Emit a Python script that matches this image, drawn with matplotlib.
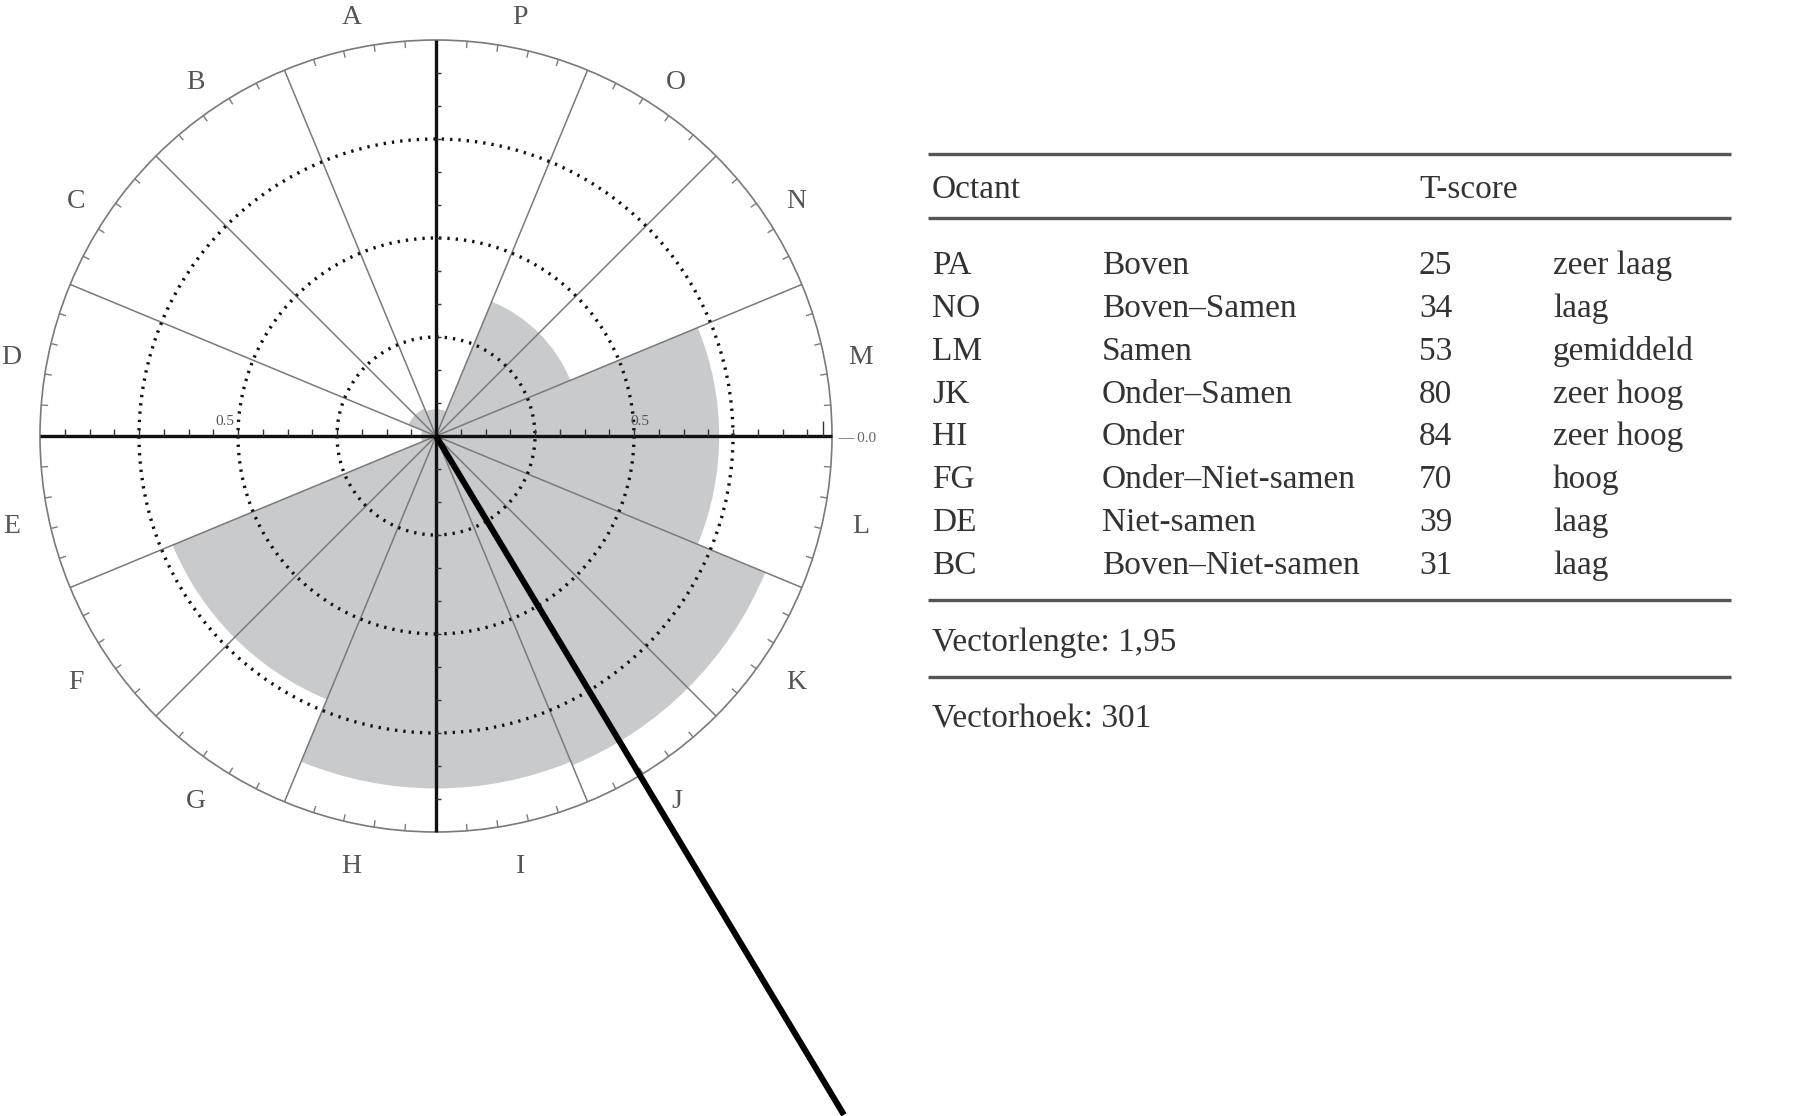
import numpy as np
import matplotlib
matplotlib.use('Agg')
import matplotlib.pyplot as plt
from matplotlib.patches import Wedge, Circle
from matplotlib.collections import LineCollection

# ---------------- data ----------------
sector_letters = ['A', 'B', 'C', 'D', 'E', 'F', 'G', 'H',
                  'I', 'J', 'K', 'L', 'M', 'N', 'O', 'P']
octant_codes = ['PA', 'NO', 'LM', 'JK', 'HI', 'FG', 'DE', 'BC']
octant_names = ['Boven', 'Boven–Samen', 'Samen', 'Onder–Samen', 'Onder',
                'Onder–Niet-samen', 'Niet-samen', 'Boven–Niet-samen']
t_scores = [25, 34, 53, 80, 84, 70, 39, 31]
levels = ['zeer laag', 'laag', 'gemiddeld', 'zeer hoog', 'zeer hoog',
          'hoog', 'laag', 'laag']
octant_angles = [90, 45, 0, 315, 270, 225, 180, 135]      # centre of octant (deg)
octant_radius = [0.27, 1.47, 2.86, 3.60, 3.56, 2.88, 0.15, 0.30]  # shaded radius
ring_levels = [1, 2, 3]
outer_radius = 4.0
vector_length_text = '1,95'
vector_angle = 301

plt.rcParams['font.family'] = ['Liberation Serif', 'DejaVu Serif']

W, H = 1800, 1116
fig = plt.figure(figsize=(W / 100, H / 100), dpi=100)
fig.patch.set_facecolor('white')

# circle axes: 99 px per data unit, centre at pixel (436, 436)
cx, cy, u = 436, 436, 99
ax = fig.add_axes([0, 0, 900 / W, 1])
ax.set_xlim(-cx / u, (900 - cx) / u)
ax.set_ylim(-(H - cy) / u, cy / u)
ax.axis('off')

R = outer_radius
grey = '#c9cacc'
for ang, r in zip(octant_angles, octant_radius):
    ax.add_patch(Wedge((0, 0), r, ang - 22.5, ang + 22.5,
                       facecolor=grey, edgecolor='none', zorder=1))

# sector lines
seg = []
for k in range(16):
    if k % 4 == 0:
        continue
    a = np.deg2rad(22.5 * k)
    seg.append([(0, 0), (R * np.cos(a), R * np.sin(a))])
ax.add_collection(LineCollection(seg, colors='#7a7a7a', linewidths=1.1, zorder=2))

# outer circle + ticks
ax.add_patch(Circle((0, 0), R, fill=False, edgecolor='#7a7a7a', lw=1.2, zorder=2))
tseg = []
for k in range(80):
    if k % 5 == 0:
        continue
    a = np.deg2rad(4.5 * k)
    tseg.append([(R * np.cos(a), R * np.sin(a)),
                 ((R - 0.07) * np.cos(a), (R - 0.07) * np.sin(a))])
ax.add_collection(LineCollection(tseg, colors='#7a7a7a', linewidths=1.0, zorder=2))

# dotted rings
for rl in ring_levels:
    ax.add_patch(Circle((0, 0), rl, fill=False, edgecolor='#111111', lw=2.4,
                        linestyle=(0, (0.7, 1.8)), zorder=3))

# main axes
ax.plot([-R, R], [0, 0], color='#111111', lw=2.4, zorder=4, solid_capstyle='butt')
ax.plot([0, 0], [-R, R], color='#111111', lw=2.4, zorder=4, solid_capstyle='butt')

# axis ticks
hx = np.arange(0.25, 3.8, 0.25)
hseg = [[(s * x, 0), (s * x, 0.07)] for x in hx for s in (1, -1)]
hseg.append([(3.91, 0), (3.91, 0.15)])
ax.add_collection(LineCollection(hseg, colors='#333333', linewidths=1.0, zorder=4))
vy = np.arange(1, 12) / 3.0
vseg = [[(0, s * y), (0.05, s * y)] for y in vy for s in (1, -1)]
ax.add_collection(LineCollection(vseg, colors='#333333', linewidths=1.0, zorder=4))

ax.text(2.06, 0.15, '0.5', fontsize=11, color='#555555', ha='center', va='center')
ax.text(-2.13, 0.15, '0.5', fontsize=11, color='#555555', ha='center', va='center')
ax.text(4.06, -0.03, '— 0.0', fontsize=11, color='#666666', ha='left', va='center')

# sector letters
for i, letter in enumerate(sector_letters):
    a = np.deg2rad(101.25 + 22.5 * i)
    ax.text(4.37 * np.cos(a), 4.37 * np.sin(a) - 0.06, letter, fontsize=20,
            color='#555555', ha='center', va='center')

# vector
va_ = np.deg2rad(vector_angle)
ax.plot([0, 8.0 * np.cos(va_)], [0, 8.0 * np.sin(va_)], color='black', lw=4.4,
        zorder=6, solid_capstyle='butt')

# ---------------- table ----------------
tax = fig.add_axes([0, 0, 1, 1])
tax.set_xlim(0, W)
tax.set_ylim(H, 0)
tax.axis('off')

x0, x1 = 928, 1731
tax.hlines([154, 218, 600, 677], x0, x1, color='#555555', lw=2.4)

tc = '#333333'
fs = 24
col_x = [932, 1102, 1419, 1553]
tax.text(col_x[0], 190, 'Octant', fontsize=fs, color=tc, ha='left', va='center')
tax.text(col_x[2], 190, 'T-score', fontsize=fs, color=tc, ha='left', va='center')
row_y0, row_dy = 266, 42.8
for i in range(len(octant_codes)):
    y = row_y0 + i * row_dy
    tax.text(col_x[0], y, octant_codes[i], fontsize=fs, color=tc, ha='left', va='center')
    tax.text(col_x[1], y, octant_names[i], fontsize=fs, color=tc, ha='left', va='center')
    tax.text(col_x[2], y, str(t_scores[i]), fontsize=fs, color=tc, ha='left', va='center')
    tax.text(col_x[3], y, levels[i], fontsize=fs, color=tc, ha='left', va='center')

tax.text(col_x[0], 643, 'Vectorlengte: ' + vector_length_text, fontsize=fs, color=tc,
         ha='left', va='center')
tax.text(col_x[0], 719, 'Vectorhoek: ' + str(vector_angle), fontsize=fs, color=tc,
         ha='left', va='center')

fig.savefig('out.png', dpi=100, facecolor='white')
